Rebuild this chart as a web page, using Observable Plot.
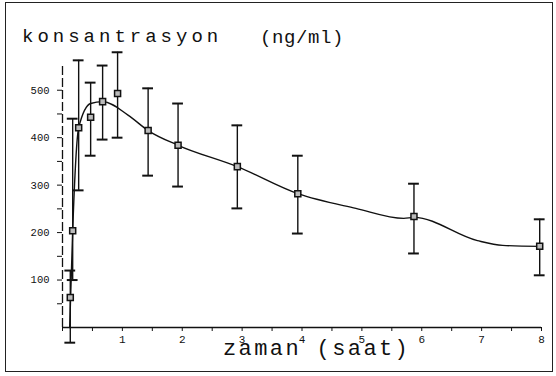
<!DOCTYPE html>
<html>
<head>
<meta charset="utf-8">
<script src="https://cdn.jsdelivr.net/npm/d3@7"></script>
<script src="https://cdn.jsdelivr.net/npm/@observablehq/plot@0.6"></script>
<style>
  html, body { margin: 0; padding: 0; background: #fff; }
  #wrap { position: relative; width: 556px; height: 376px; overflow: hidden; }
  #wrap svg { position: absolute; left: 0; top: 0; }
  #border { position: absolute; left: 5px; top: 2px; width: 546px; height: 368px; border: 1px solid #222; pointer-events: none; }
</style>
</head>
<body>
<div id="wrap"><div id="border"></div></div>
<script>
// Sample times (h), mean concentrations (ng/ml) and error-bar ends
const times = [0.13, 0.17, 0.27, 0.47, 0.67, 0.92, 1.43, 1.93, 2.92, 3.93, 5.87, 7.97];
const means = [63, 204, 421, 443, 476, 493, 415, 384, 339, 282, 234, 171];
const lows  = [-32, 100, 289, 362, 396, 400, 320, 297, 251, 198, 156, 110];
const highs = [120, 440, 563, 516, 552, 580, 504, 472, 426, 362, 303, 228];

// Hand-drawn fitted curve
const curveTimes  = [0.12, 0.17, 0.27, 0.47, 0.67, 1.1, 1.43, 1.93, 2.92, 3.93, 4.9, 5.7, 5.87, 6.93, 7.35, 7.97];
const curveValues = [0, 204, 421, 472, 476, 447, 415, 384, 339, 282, 251, 230, 232, 183, 173, 171];

// Axis ticks and labels
const xTicks = [0, 0.5, 1, 1.5, 2, 2.5, 3, 3.5, 4, 4.5, 5, 5.5, 6, 6.5, 7, 7.5, 8];
const xTickLabels = [1, 2, 3, 4, 5, 6, 7, 8];
const yTicks = [50, 100, 150, 200, 250, 300, 350, 400, 450, 500];
const yTickLabels = [100, 200, 300, 400, 500];

const titleText = "konsantrasyon";
const unitText = "(ng/ml)";
const xLabelText = "zaman (saat)";

const points = times.map((t, i) => ({t, mean: means[i], lo: lows[i], hi: highs[i]}));
const curve = curveTimes.map((t, i) => ({t, v: curveValues[i]}));
const capHalf = 0.09;

const chart = Plot.plot({
  width: 556,
  height: 376,
  marginLeft: 62,
  marginRight: 15,
  marginTop: 66,
  marginBottom: 49,
  style: {background: "transparent", fontFamily: "'Liberation Mono', monospace", color: "#111"},
  x: {domain: [0, 8], axis: null},
  y: {domain: [0, 550], axis: null},
  marks: [
    // axes lines
    Plot.ruleX([0], {y1: 0, y2: 555, stroke: "#111", strokeWidth: 1.3, strokeDasharray: "9,3"}),
    Plot.ruleY([0], {stroke: "#111", strokeWidth: 1.5}),
    Plot.axisX({ticks: xTicks, tickSize: 4, tickPadding: 4, fontSize: 11, label: null,
      tickFormat: d => xTickLabels.includes(d) ? String(d) : ""}),
    Plot.axisY({ticks: yTicks, tickSize: 5, tickPadding: 8, fontSize: 10.5, label: null,
      tickFormat: d => yTickLabels.includes(d) ? String(d) : ""}),
    // fitted curve
    Plot.line(curve, {x: "t", y: "v", curve: "monotone-x", stroke: "#111", strokeWidth: 1.4}),
    // error bars
    Plot.ruleX(points, {x: "t", y1: "lo", y2: "hi", stroke: "#111", strokeWidth: 1.4}),
    Plot.ruleY(points, {y: "hi", x1: d => d.t - capHalf, x2: d => d.t + capHalf, stroke: "#111", strokeWidth: 2}),
    Plot.ruleY(points, {y: "lo", x1: d => d.t - capHalf, x2: d => d.t + capHalf, stroke: "#111", strokeWidth: 2}),
    // means
    Plot.dot(points, {x: "t", y: "mean", symbol: "square", r: 3.4, fill: "#bbb", stroke: "#111", strokeWidth: 1.5})
  ]
});

const svg = d3.select(chart);
const addText = (x, y, size, spacing, txt) => svg.append("text")
  .attr("x", x).attr("y", y)
  .attr("text-anchor", "start")
  .attr("font-family", "'Liberation Mono', monospace").attr("font-size", size)
  .attr("letter-spacing", spacing).attr("fill", "#111").text(txt);
addText(22, 42, 19, 4, titleText);
addText(260, 43, 19, 0.6, unitText);
addText(223, 355, 22, 2.4, xLabelText);

document.getElementById("wrap").appendChild(chart);
</script>
</body>
</html>
